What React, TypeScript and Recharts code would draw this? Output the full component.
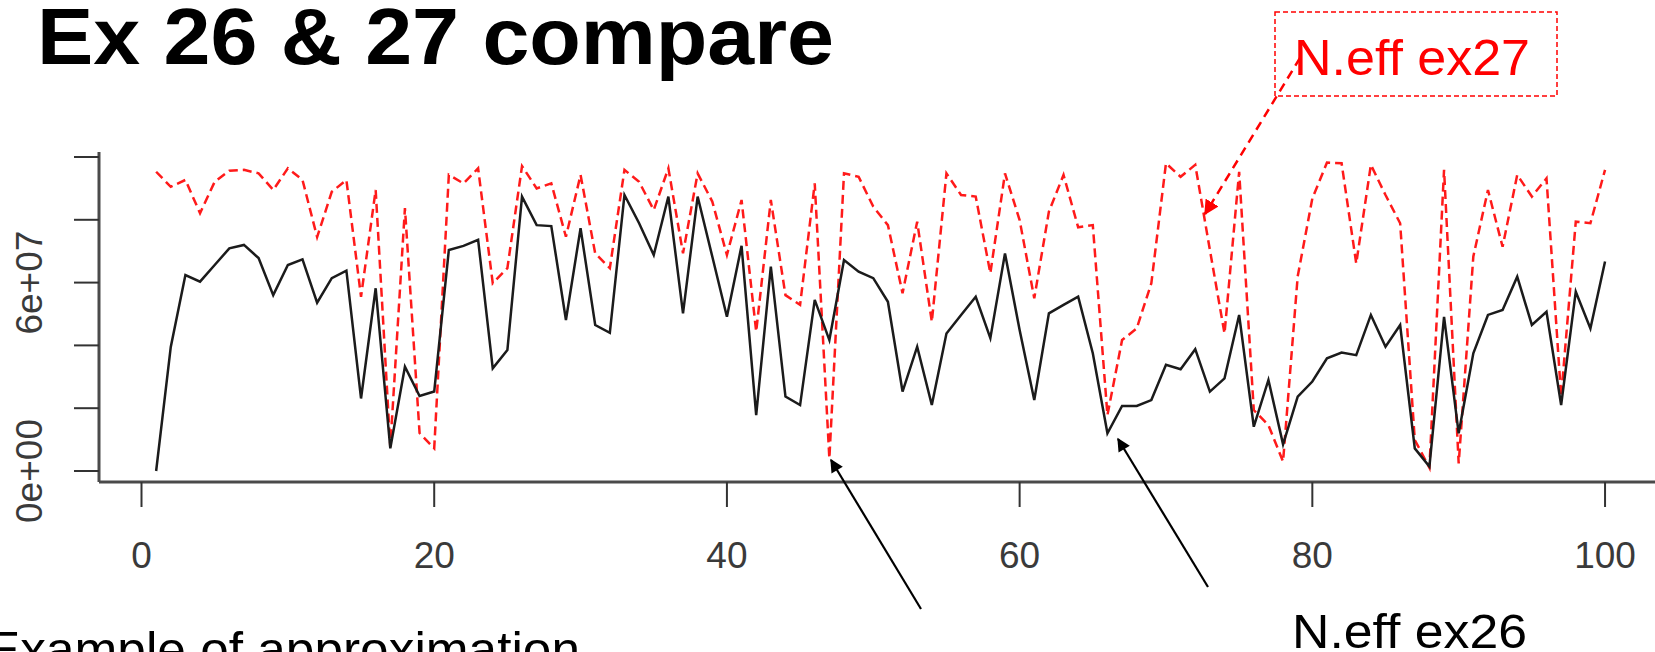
import { LineChart, Line, XAxis, YAxis } from "recharts";

// run index (x axis)
const runs = Array.from({ length: 100 }, (_, i) => i + 1);

// N.eff per run, in millions
const neffEx26 = [
  0, 39.5, 62.4, 60.3, 65.6, 70.9, 72.0, 67.8, 56.0, 65.6,
  67.4, 53.6, 61.4, 63.8, 23.1, 58.2, 7.2, 33.2, 23.9, 25.3,
  70.4, 71.7, 73.6, 32.7, 38.5, 87.4, 78.3, 78.0, 48.1, 77.3,
  46.5, 44.0, 87.9, 78.9, 68.8, 87.4, 50.2, 87.4, 68.3, 49.1,
  71.7, 17.8, 65.1, 23.7, 21.0, 54.5, 41.7, 67.2, 63.5, 61.4,
  53.9, 25.3, 39.6, 21.0, 43.8, 49.7, 55.5, 42.3, 69.3, 44.9,
  22.6, 50.2, 52.9, 55.5, 37.5, 12.0, 20.7, 20.7, 22.6, 33.8,
  32.4, 38.8, 25.3, 29.5, 49.7, 14.1, 29.0, 8.5, 23.7, 28.5,
  35.9, 37.7, 36.9, 49.7, 39.6, 46.5, 7.2, 1.4, 49.1, 12.0,
  37.5, 49.7, 51.3, 61.9, 46.5, 50.7, 21.0, 57.1, 45.4, 66.7,
];

const neffEx27 = [
  95.3, 90.5, 92.7, 82.1, 92.1, 95.6, 95.9, 94.8, 89.5, 96.4,
  92.7, 74.5, 88.9, 92.7, 55.5, 89.5, 7.7, 83.7, 12.1, 7.2,
  94.3, 91.6, 96.4, 59.8, 64.6, 97.1, 90.0, 91.6, 74.6, 94.3,
  69.3, 64.6, 95.9, 92.1, 83.1, 96.4, 69.3, 94.8, 85.8, 68.8,
  86.3, 44.4, 86.3, 56.0, 52.9, 91.6, 4.0, 94.8, 93.7, 84.2,
  78.3, 56.6, 79.4, 47.5, 94.8, 87.9, 87.4, 63.0, 94.8, 79.9,
  55.0, 82.6, 94.3, 77.6, 78.3, 17.8, 41.7, 45.4, 59.8, 98.0,
  93.7, 97.5, 70.4, 43.8, 95.3, 19.4, 14.6, 3.0, 62.0, 86.8,
  98.2, 98.0, 66.1, 97.5, 87.9, 78.9, 9.9, 1.0, 95.9, 2.4,
  68.3, 89.5, 71.4, 94.3, 87.4, 93.2, 23.7, 79.4, 78.9, 95.9,
];

const xTicks = [0, 20, 40, 60, 80, 100];
const yTicks = [0, 20, 40, 60, 80, 100];
const yLabels: Record<number, string> = { 0: "0e+00", 60: "6e+07" };

const data = runs.map((run, i) => ({ run, ex26: neffEx26[i], ex27: neffEx27[i] }));

const FONT = '"Liberation Sans", Arial, sans-serif';

const XTick = ({ x, y, payload }: any) => (
  <text x={x} y={y + 59} textAnchor="middle" fontFamily={FONT} fontSize={37} fill="#3a3a3a">
    {payload.value}
  </text>
);

const YTick = ({ x, y, payload }: any) => {
  const label = yLabels[payload.value];
  if (!label) return null;
  const bx = x - 30;
  return (
    <text
      x={bx}
      y={y}
      transform={`rotate(-90, ${bx}, ${y})`}
      textAnchor="middle"
      fontFamily={FONT}
      fontSize={37}
      fill="#3a3a3a"
    >
      {label}
    </text>
  );
};

export default function App() {
  return (
    <div
      style={{
        position: "absolute",
        left: 0,
        top: 0,
        width: 1655,
        height: 652,
        overflow: "hidden",
        background: "#fff",
      }}
    >
      <div style={{ position: "absolute", left: 0, top: 0 }}>
        <LineChart width={1700} height={652} data={data} margin={{ top: 152, right: 37, bottom: 0, left: 0 }}>
          <XAxis
            dataKey="run"
            type="number"
            domain={[-2.904, 103.96]}
            allowDataOverflow
            ticks={xTicks}
            height={170}
            tickSize={25}
            tick={<XTick />}
            tickLine={{ stroke: "#333", strokeWidth: 2 }}
            axisLine={{ stroke: "#4a4a4a", strokeWidth: 3 }}
          />
          <XAxis
            xAxisId="top"
            orientation="top"
            dataKey="run"
            type="number"
            domain={[-2.904, 103.96]}
            allowDataOverflow
            height={0}
            tick={false}
            tickLine={false}
            axisLine={{ stroke: "#4a4a4a", strokeWidth: 3 }}
          />
          <YAxis
            type="number"
            domain={[-3.503, 101.59]}
            allowDataOverflow
            ticks={yTicks}
            width={99}
            tickSize={25}
            tick={<YTick />}
            tickLine={{ stroke: "#333", strokeWidth: 2 }}
            axisLine={{ stroke: "#4a4a4a", strokeWidth: 3 }}
          />
          <Line
            dataKey="ex27"
            type="linear"
            stroke="#ff1a1a"
            strokeWidth={2.5}
            strokeDasharray="9 5"
            dot={false}
            isAnimationActive={false}
          />
          <Line
            dataKey="ex26"
            type="linear"
            stroke="#1b1b1b"
            strokeWidth={2.5}
            dot={false}
            isAnimationActive={false}
          />
        </LineChart>
      </div>

      {/* slide annotations */}
      <svg width={1655} height={652} style={{ position: "absolute", left: 0, top: 0, pointerEvents: "none" }}>
        <defs>
          <marker id="headRed" viewBox="0 0 10 10" refX="9" refY="5" markerWidth="6" markerHeight="6" orient="auto" markerUnits="strokeWidth">
            <path d="M0,0 L10,5 L0,10 z" fill="#ff0000" />
          </marker>
          <marker id="headBlack" viewBox="0 0 10 10" refX="9" refY="5" markerWidth="7" markerHeight="6" orient="auto" markerUnits="strokeWidth">
            <path d="M0,0 L10,5 L0,10 z" fill="#000" />
          </marker>
        </defs>
        <text x={37} y={64} fontFamily={FONT} fontWeight="bold" fontSize={80} textLength={797} lengthAdjust="spacingAndGlyphs" fill="#000">
          Ex 26 &amp; 27 compare
        </text>

        <rect x={1275} y={12} width={282} height={84} fill="none" stroke="#ff0000" strokeWidth={1.5} strokeDasharray="5 3" />
        <text x={1294} y={75} fontFamily={FONT} fontSize={50} textLength={236} lengthAdjust="spacingAndGlyphs" fill="#ff0000">
          N.eff ex27
        </text>
        <line x1={1300} y1={58} x2={1205} y2={214} stroke="#ff0000" strokeWidth={2.5} strokeDasharray="9 6" markerEnd="url(#headRed)" />

        <line x1={921} y1={609} x2={831} y2={460} stroke="#000" strokeWidth={2.2} markerEnd="url(#headBlack)" />
        <line x1={1208} y1={587} x2={1118} y2={439} stroke="#000" strokeWidth={2.2} markerEnd="url(#headBlack)" />

        <text x={1292} y={648} fontFamily={FONT} fontSize={48} textLength={235} lengthAdjust="spacingAndGlyphs" fill="#000">
          N.eff ex26
        </text>
        <text x={-14} y={667} fontFamily={FONT} fontSize={50} textLength={594} lengthAdjust="spacingAndGlyphs" fill="#000">
          Example of approximation
        </text>
      </svg>
    </div>
  );
}
